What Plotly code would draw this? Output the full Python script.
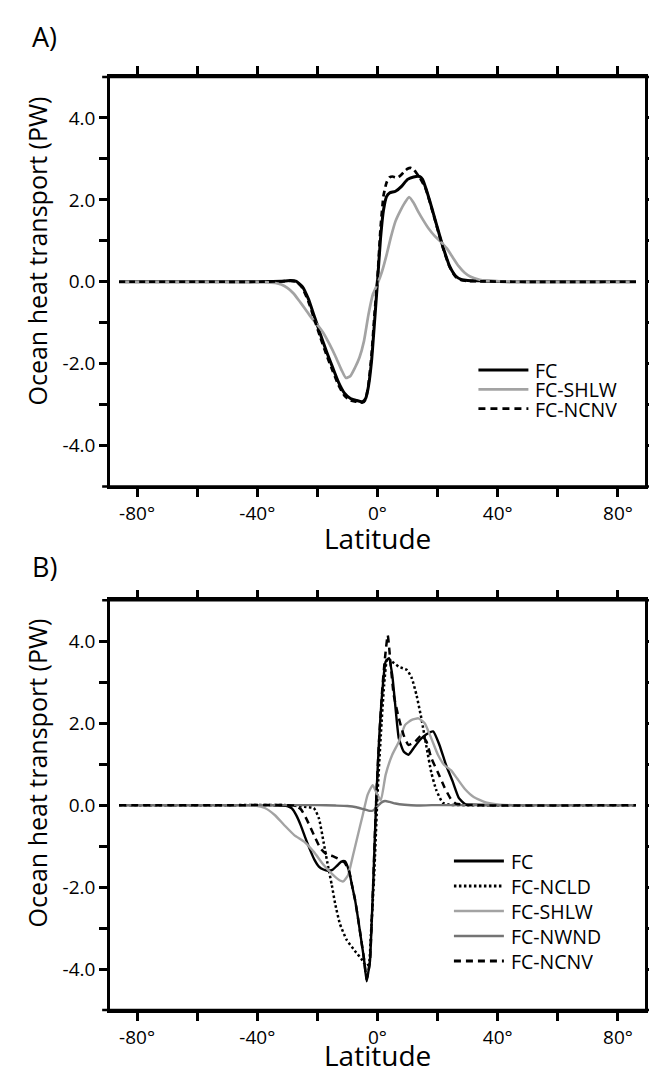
import plotly.graph_objects as go

# ---------------- data ----------------
X_TICKS = [-80, -60, -40, -20, 0, 20, 40, 60, 80]
X_LABELS = ["-80°", "", "-40°", "", "0°", "", "40°", "", "80°"]
Y_TICKS = [-4, -3, -2, -1, 0, 1, 2, 3, 4]
Y_LABELS = ["-4.0", "", "-2.0", "", "0.0", "", "2.0", "", "4.0"]

# Panel A
A_FC_lat = [-86, -60, -40, -32, -29, -27, -25, -23, -21, -19, -17, -15, -13, -11, -9, -7, -5, -4, -3, -2, -1, 0,
            1, 2, 3, 4, 6, 8, 10, 12, 14, 15, 16, 18, 20, 22, 24, 26, 28, 30, 35, 45, 86]
A_FC = [0, 0, 0, 0.01, 0.03, 0.01, -0.12, -0.42, -0.85, -1.28, -1.70, -2.08, -2.45, -2.72, -2.85, -2.90, -2.93,
        -2.86, -2.55, -1.95, -1.00, 0.0, 1.05, 1.75, 2.08, 2.17, 2.21, 2.33, 2.50, 2.56, 2.57, 2.50, 2.30, 1.82,
        1.30, 0.80, 0.38, 0.14, 0.05, 0.03, 0.02, 0.0, 0.0]

A_SHLW_lat = [-86, -50, -38, -34, -32, -30, -28, -26, -24, -22, -20, -18, -16, -14, -12, -10.5, -9, -7.5, -6,
              -4.5, -3, -1.5, 0, 1.5, 3, 4.5, 6, 7.5, 9, 10.5, 12, 13.5, 15, 17, 19, 21, 23, 25, 27, 29, 31, 34,
              37, 42, 50, 86]
A_SHLW = [0, 0, -0.01, -0.03, -0.07, -0.15, -0.28, -0.47, -0.67, -0.88, -1.05, -1.25, -1.52, -1.82, -2.15, -2.35,
          -2.30, -2.10, -1.85, -1.45, -0.80, -0.30, -0.05, 0.25, 0.65, 1.10, 1.48, 1.72, 1.92, 2.07, 1.93, 1.72,
          1.53, 1.30, 1.12, 0.98, 0.82, 0.60, 0.38, 0.22, 0.12, 0.05, 0.02, 0.01, 0, 0]

A_NCNV_lat = [-86, -60, -40, -32, -29, -27, -25, -23, -21, -19, -17, -15, -13, -11, -9, -7, -5, -4, -3, -2, -1,
              0, 1, 2, 3, 4, 5, 6, 7, 8, 9, 10, 11, 12, 13, 14, 16, 18, 20, 22, 24, 26, 28, 30, 35, 45, 86]
A_NCNV = [0, 0, 0, 0.01, 0.02, 0, -0.15, -0.48, -0.92, -1.36, -1.78, -2.16, -2.52, -2.78, -2.90, -2.93, -2.95,
          -2.88, -2.50, -1.80, -0.80, 0.10, 1.30, 2.10, 2.42, 2.55, 2.57, 2.55, 2.56, 2.62, 2.70, 2.76, 2.78, 2.74,
          2.65, 2.55, 2.28, 1.80, 1.28, 0.78, 0.36, 0.12, 0.04, 0.02, 0.01, 0, 0]

# Panel B
B_FC_lat = [-86, -50, -35, -30, -28.5, -27, -25.5, -24, -22.5, -21, -19.5, -18, -16.5, -15, -13.5, -12, -10.8,
            -9.5, -8.5, -7.5, -6.5, -5.5, -4.5, -3.6, -3.0, -2.5, -1.9, -1.4, -0.5, 0.5, 1.6, 2.7, 3.8, 4.9, 6,
            7.1, 8.7, 10.3, 12, 14.1, 16.3, 18.5, 20.6, 22.8, 25, 27.1, 29.3, 32, 40, 86]
B_FC = [0, 0, 0, -0.02, -0.08, -0.25, -0.50, -0.80, -1.08, -1.33, -1.50, -1.57, -1.60, -1.58, -1.48, -1.38, -1.37,
        -1.60, -1.95, -2.30, -2.75, -3.25, -3.75, -4.30, -4.05, -3.80, -2.80, -1.86, 0.0, 1.55, 2.77, 3.50, 3.59,
        3.18, 2.37, 1.63, 1.31, 1.23, 1.39, 1.59, 1.73, 1.80, 1.47, 0.98, 0.58, 0.17, 0.02, 0.01, 0, 0]

B_NCLD_lat = [-86, -50, -30, -24.4, -21.2, -19.5, -17.9, -16.3, -15.2, -14.1, -12.5, -10.3, -7.6, -5.4, -3.8,
              -2.9, -2.2, -1.1, 0, 1.1, 2.2, 3.3, 4.9, 7.1, 9.8, 11.4, 13, 14.7, 16.3, 17.9, 19.5, 21.7, 24, 30, 86]
B_NCLD = [0, 0, 0, -0.04, -0.07, -0.32, -0.92, -1.55, -1.95, -2.40, -2.90, -3.28, -3.55, -3.75, -3.92, -3.88,
          -3.16, -1.70, 0.25, 1.71, 2.93, 3.59, 3.50, 3.38, 3.30, 3.10, 2.68, 2.08, 1.42, 0.80, 0.38, 0.06, 0.01,
          0, 0]

B_SHLW_lat = [-86, -45, -40.7, -37.5, -34.2, -31, -27.7, -24.4, -21.2, -17.9, -14.7, -12.5, -11.4, -9.8, -8.1,
              -6.5, -4.9, -3.3, -1.6, -0.5, 1.1, 2.7, 4.9, 7.1, 9.2, 11.4, 13.6, 15.7, 17.9, 20.1, 22.2, 24.5,
              26.5, 29, 32, 36.4, 40.7, 45, 86]
B_SHLW = [0, 0, -0.01, -0.07, -0.24, -0.49, -0.73, -0.89, -1.14, -1.46, -1.71, -1.84, -1.86, -1.71, -1.21, -0.72,
          -0.24, 0.25, 0.49, 0.33, 0.12, 0.74, 1.23, 1.55, 1.96, 2.08, 2.12, 2.00, 1.63, 1.23, 0.98, 0.85, 0.65,
          0.40, 0.20, 0.06, 0.01, 0, 0]

B_NWND_lat = [-86, -20, -14, -10, -7, -4.5, -2.5, -1.5, 0, 1.2, 2.5, 4, 6, 9, 13, 18, 25, 86]
B_NWND = [0, 0, -0.01, -0.02, -0.05, -0.10, -0.14, -0.13, -0.03, 0.06, 0.10, 0.08, 0.04, 0.01, -0.01, 0, 0, 0]

B_NCNV_lat = [-86, -50, -30, -27.7, -25.5, -23.4, -21.2, -19, -16.8, -14.7, -12.5, -11, -9.5, -8.5, -7.5, -6.5,
              -5.5, -4.5, -3.6, -3.0, -2.5, -1.9, -1.4, -0.5, 0.5, 1.6, 2.5, 3.4, 4.3, 5.4, 7.1, 8.7, 10.3, 12.5,
              14.7, 16.3, 17.9, 20.1, 22.2, 24.4, 26, 32, 86]
B_NCNV = [0, 0, 0, -0.01, -0.10, -0.37, -0.72, -1.05, -1.21, -1.25, -1.33, -1.40, -1.60, -1.95, -2.30, -2.75,
          -3.25, -3.75, -4.25, -4.05, -3.80, -2.80, -1.86, 0.0, 1.55, 2.85, 3.60, 4.15, 3.50, 2.69, 2.12, 1.71,
          1.47, 1.55, 1.71, 1.55, 1.15, 0.80, 0.45, 0.15, 0.04, 0, 0]

# ---------------- styling ----------------
FONT = "Open Sans"
W, H = 657, 1072
ML, MR, MT, MB = 102, 9, 69, 70
PW = W - ML - MR
PH = H - MT - MB


def px2paper(px, py):
    return (px - ML) / PW, (H - MB - py) / PH


STYLE = {
    "FC": dict(color="black", dash="solid"),
    "FC-NCLD": dict(color="black", dash="2.5px,2.5px"),
    "FC-SHLW": dict(color="#a3a3a3", dash="solid"),
    "FC-NWND": dict(color="#747474", dash="solid"),
    "FC-NCNV": dict(color="black", dash="7px,5px"),
}
STYLE_A_NCNV = "6px,4px"

fig = go.Figure()


def add(xs, ys, name, width, xa, ya, dash=None):
    st = STYLE[name]
    fig.add_trace(go.Scatter(
        x=xs, y=ys, mode="lines", name=name, xaxis=xa, yaxis=ya, showlegend=False,
        line=dict(color=st["color"], width=width, dash=dash or st["dash"], shape="spline", smoothing=0.5),
        hoverinfo="skip"))


PANEL_A = [(A_FC_lat, A_FC, "FC"), (A_SHLW_lat, A_SHLW, "FC-SHLW"), (A_NCNV_lat, A_NCNV, "FC-NCNV")]
PANEL_B = [(B_FC_lat, B_FC, "FC"), (B_NCLD_lat, B_NCLD, "FC-NCLD"), (B_SHLW_lat, B_SHLW, "FC-SHLW"),
           (B_NWND_lat, B_NWND, "FC-NWND"), (B_NCNV_lat, B_NCNV, "FC-NCNV")]

for xs, ys, nm in PANEL_A:
    add(xs, ys, nm, 3 if nm == "FC" else 2.7, "x", "y", dash=STYLE_A_NCNV if nm == "FC-NCNV" else None)
for xs, ys, nm in PANEL_B:
    add(xs, ys, nm, 2.5 if nm in ("FC-NCLD", "FC-NCNV") else 2.4, "x2", "y2")

tickfont = dict(family=FONT, size=19, color="black")
xcommon = dict(range=[-89, 89], tickmode="array", tickvals=X_TICKS, ticktext=X_LABELS,
               ticks="outside", ticklen=8, tickwidth=2.5, tickcolor="black",
               showline=True, linewidth=2.5, linecolor="black", mirror="ticks",
               showgrid=False, zeroline=False, tickfont=tickfont, fixedrange=True)
ycommon = dict(range=[-5, 5], tickmode="array", tickvals=Y_TICKS, ticktext=Y_LABELS,
               ticks="outside", ticklen=8, tickwidth=2.5, tickcolor="black",
               showline=True, linewidth=2.5, linecolor="black", mirror="ticks",
               showgrid=False, zeroline=False, tickfont=tickfont, fixedrange=True)

dA = [0.5611, 1.0]
dB = [0.0, 0.4391]

fig.update_layout(
    width=W, height=H,
    margin=dict(l=ML, r=MR, t=MT, b=MB),
    paper_bgcolor="white", plot_bgcolor="white",
    xaxis=dict(xcommon, anchor="y"),
    yaxis=dict(ycommon, domain=dA, anchor="x"),
    xaxis2=dict(xcommon, anchor="y2"),
    yaxis2=dict(ycommon, domain=dB, anchor="x2"),
    showlegend=False,
)

# horizontal frame lines overshooting the vertical axes (as in the original)
ov = 8 / PW
for xr, yr in (("x domain", "y domain"), ("x2 domain", "y2 domain")):
    for yy in (0, 1):
        fig.add_shape(type="line", xref=xr, yref=yr, x0=-ov, x1=1 + ov, y0=yy, y1=yy,
                      line=dict(color="black", width=2.5), layer="above")


def ann(text, x, y, size, **kw):
    fig.add_annotation(text=text, x=x, y=y, xref="paper", yref="paper", showarrow=False,
                       font=dict(family=FONT, size=size, color="black"), **kw)


# legends (sample line + label), positioned in pixels
def legend(entries, x_line0, x_line1, x_text, y_first, step, widths, box_h):
    for i, nm in enumerate(entries):
        py = y_first + i * step
        x0, yy = px2paper(x_line0, py)
        x1, _ = px2paper(x_line1, py)
        xt, _ = px2paper(x_text, py)
        st = STYLE[nm]
        fig.add_shape(type="line", xref="paper", yref="paper", x0=x0, x1=x1, y0=yy, y1=yy,
                      line=dict(color=st["color"], width=widths[i], dash=st["dash"]))
        ann(nm, xt, yy, 19.5, xanchor="left", yanchor="middle", height=box_h, valign="middle")


legend([p[2] for p in PANEL_A], 478, 529, 534, 362, 19.3, [3, 2.7, 2.7], 18)
legend([p[2] for p in PANEL_B], 453, 504, 509, 853, 25, [2.8, 2.8, 2.6, 2.6, 2.8], 22)

ax, ay = px2paper(20, 28)
ann("A)", ax, ay, 27, xanchor="left", yanchor="middle")
bx, by = px2paper(20, 558)
ann("B)", bx, by, 27, xanchor="left", yanchor="middle")

tx, tyA = px2paper(28, 243)
_, tyB = px2paper(28, 765)
ann("Ocean heat transport (PW)", tx, tyA, 25, textangle=-90, xanchor="center", yanchor="middle")
ann("Ocean heat transport (PW)", tx, tyB, 25, textangle=-90, xanchor="center", yanchor="middle")

lx, lyA = px2paper(375, 530)
_, lyB = px2paper(375, 1047)
ann("Latitude", lx, lyA, 28, xanchor="center", yanchor="middle", height=30, valign="middle")
ann("Latitude", lx, lyB, 28, xanchor="center", yanchor="middle", height=30, valign="middle")

fig.write_html("out.html")
